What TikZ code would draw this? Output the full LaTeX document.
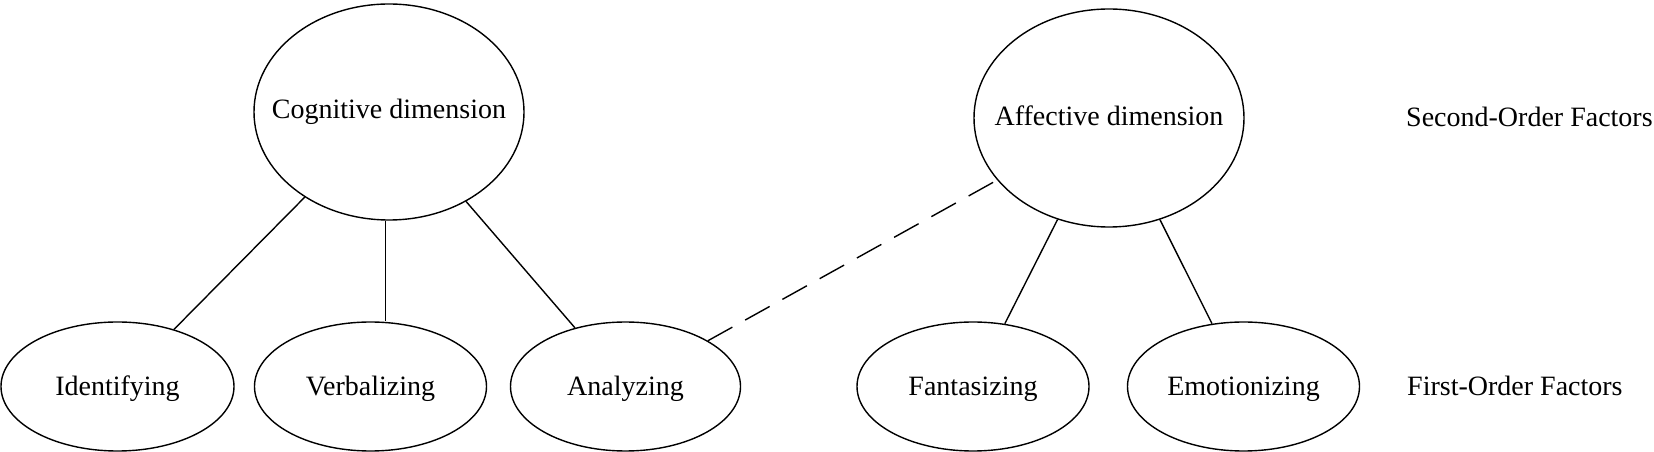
\documentclass[tikz,border=0pt]{standalone}
\usepackage{fontspec}
\setmainfont{Liberation Serif}
\usetikzlibrary{shapes.geometric}
\newcommand{\zb}[2]{\makebox[0pt]{\raisebox{#1}[0pt][0pt]{#2}}}
\begin{document}
\begin{tikzpicture}[x=1pt,y=1pt,
  txt/.style={font=\fontsize{28}{34}\selectfont},
  fac/.style={draw, ellipse, line width=1.4pt, inner sep=0pt, txt},
  big/.style={fac, minimum width=270pt, minimum height=216pt},
  small/.style={fac, minimum width=232pt, minimum height=129pt},
  link/.style={line width=1.4pt},
  dlink/.style={line width=1.4pt, dash pattern=on 28pt off 14.6pt}]
\useasboundingbox (0,0) rectangle (1654,452);
\node[big] (cog) at (389,340) {\zb{-7pt}{Cognitive dimension}};
\node[big, minimum height=218pt] (aff) at (1109,334) {\zb{-7.5pt}{Affective dimension}};
\node[small, minimum width=233pt] (ide) at (117.5,65.5) {\zb{-9pt}{Identifying}};
\node[small] (ver) at (370.5,65.5) {\zb{-9pt}{Verbalizing}};
\node[small, minimum width=230pt] (ana) at (625.5,65.5) {\zb{-9pt}{Analyzing}};
\node[small] (fan) at (973,65.5) {\zb{-9pt}{Fantasizing}};
\node[small] (emo) at (1243.5,65.5) {\zb{-9pt}{Emotionizing}};
\node[txt, anchor=base west, inner sep=0pt] (sec) at (1406,325.3) {Second-Order Factors};
\node[txt, anchor=base west, inner sep=0pt] (fir) at (1407,56.3) {First-Order Factors};
\draw[link] (cog) -- (ide);
\draw[link] (cog.268) -- (cog.268 |- ver.north);
\draw[link] (cog) -- (ana);
\draw[link] (aff) -- (fan);
\draw[link] (aff) -- (emo);
\draw[dlink] (ana) -- (aff);
\end{tikzpicture}
\end{document}
